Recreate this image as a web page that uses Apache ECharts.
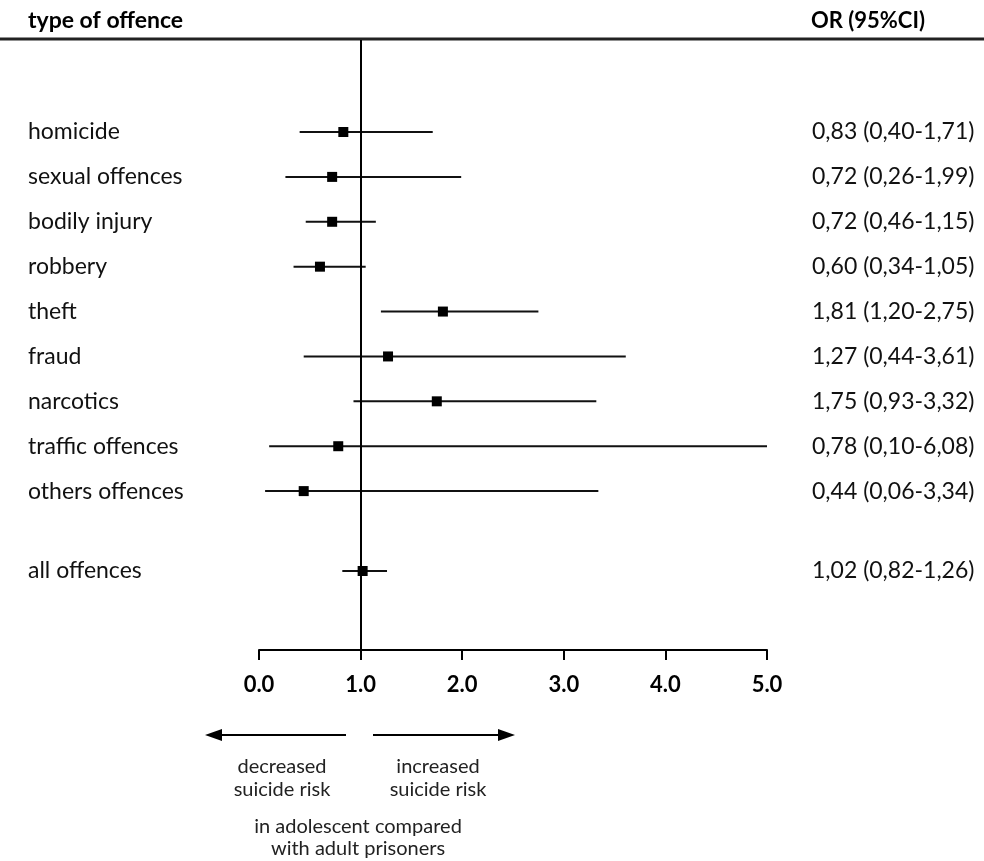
<!DOCTYPE html>
<html>
<head>
<meta charset="utf-8">
<script src="https://cdn.jsdelivr.net/npm/echarts@6/dist/echarts.min.js"></script>
<style>html,body{margin:0;padding:0;background:#fff;}#c{width:984px;height:861px;}</style>
</head>
<body>
<div id="c"></div>
<script>
var categories = ['homicide','sexual offences','bodily injury','robbery','theft','fraud','narcotics','traffic offences','others offences','all offences'];
var rowPos = [0,1,2,3,4,5,6,7,8,9.78];
var orValues = [0.83,0.72,0.72,0.60,1.81,1.27,1.75,0.78,0.44,1.02];
var ciLow = [0.40,0.26,0.46,0.34,1.20,0.44,0.93,0.10,0.06,0.82];
var ciHigh = [1.71,1.99,1.15,1.05,2.75,3.61,3.32,6.08,3.34,1.26];
var xTicks = [0,1,2,3,4,5];

var FONT = 'Lato, "Open Sans", sans-serif';
var X_MAX = 5;

function fmt(v){ return v.toFixed(2).replace('.', ','); }

var data = categories.map(function(c,i){ return [rowPos[i], orValues[i], ciLow[i], ciHigh[i], i]; });

var chart = echarts.init(document.getElementById('c'));
chart.setOption({
  animation: false,
  backgroundColor: '#fff',
  grid: { left: 259, right: 217, top: 40, bottom: 211 },
  xAxis: {
    type: 'value', min: xTicks[0], max: X_MAX, interval: 1,
    axisLine: { show: true, onZero: false, lineStyle: { color: '#000', width: 2 } },
    axisTick: { show: true, inside: false, length: 10, lineStyle: { color: '#000', width: 2 } },
    splitLine: { show: false },
    axisLabel: { margin: 24, color: '#000', fontFamily: FONT, fontWeight: 'bold', fontSize: 22,
      formatter: function(v){ return v.toFixed(1); } }
  },
  yAxis: { type: 'value', inverse: true, min: -2.05, max: 11.54, show: false },
  graphic: [
    { type: 'line', shape: { x1: 0, y1: 39, x2: 984, y2: 39 }, style: { stroke: '#222', lineWidth: 3 } },
    { type: 'text', style: { x: 28, y: 21, text: 'type of offence', font: 'bold 23px ' + FONT, fill: '#000', verticalAlign: 'middle' } },
    { type: 'text', style: { x: 811, y: 21, text: 'OR (95%CI)', font: 'bold 22px ' + FONT, fill: '#000', verticalAlign: 'middle' } },
    { type: 'polyline', shape: { points: [[218,735],[346,735]] }, style: { stroke: '#000', lineWidth: 2 } },
    { type: 'polygon', shape: { points: [[205,735],[222,729],[222,741]] }, style: { fill: '#000' } },
    { type: 'polyline', shape: { points: [[373,735],[502,735]] }, style: { stroke: '#000', lineWidth: 2 } },
    { type: 'polygon', shape: { points: [[515,735],[498,729],[498,741]] }, style: { fill: '#000' } },
    { type: 'text', style: { x: 282, y: 767, text: 'decreased', font: '20px ' + FONT, fill: '#222', align: 'center', verticalAlign: 'middle' } },
    { type: 'text', style: { x: 282, y: 790, text: 'suicide risk', font: '20px ' + FONT, fill: '#222', align: 'center', verticalAlign: 'middle' } },
    { type: 'text', style: { x: 438, y: 767, text: 'increased', font: '20px ' + FONT, fill: '#222', align: 'center', verticalAlign: 'middle' } },
    { type: 'text', style: { x: 438, y: 790, text: 'suicide risk', font: '20px ' + FONT, fill: '#222', align: 'center', verticalAlign: 'middle' } },
    { type: 'text', style: { x: 358, y: 827, text: 'in adolescent compared', font: '20px ' + FONT, fill: '#222', align: 'center', verticalAlign: 'middle' } },
    { type: 'text', style: { x: 358, y: 849, text: 'with adult prisoners', font: '20px ' + FONT, fill: '#222', align: 'center', verticalAlign: 'middle' } }
  ],
  series: [{
    type: 'custom',
    clip: false,
    data: data,
    encode: { x: 1, y: 0 },
    renderItem: function(params, api){
      var y = api.value(0), orv = api.value(1), lo = api.value(2), hi = api.value(3), idx = api.value(4);
      var pLo = api.coord([lo, y]);
      var pHi = api.coord([Math.min(hi, X_MAX), y]);
      var pOr = api.coord([orv, y]);
      var s = 10;
      return {
        type: 'group',
        children: [
          { type: 'line', shape: { x1: pLo[0], y1: pLo[1], x2: pHi[0], y2: pHi[1] }, style: { stroke: '#111', lineWidth: 2 } },
          { type: 'rect', shape: { x: pOr[0]-s/2, y: pOr[1]-s/2, width: s, height: s }, style: { fill: '#000' } },
          { type: 'text', style: { x: 28, y: pOr[1], text: categories[idx], font: '23px ' + FONT, fill: '#111', verticalAlign: 'middle', textVerticalAlign: 'middle' } },
          { type: 'text', style: { x: 812, y: pOr[1], text: fmt(orv) + ' (' + fmt(ciLow[idx]) + '-' + fmt(ciHigh[idx]) + ')', font: '23px ' + FONT, fill: '#111', verticalAlign: 'middle', textVerticalAlign: 'middle' } }
        ]
      };
    },
    markLine: {
      silent: true, symbol: 'none', label: { show: false },
      lineStyle: { color: '#000', width: 2, type: 'solid' },
      data: [{ xAxis: 1 }]
    }
  }]
});
</script>
</body>
</html>
